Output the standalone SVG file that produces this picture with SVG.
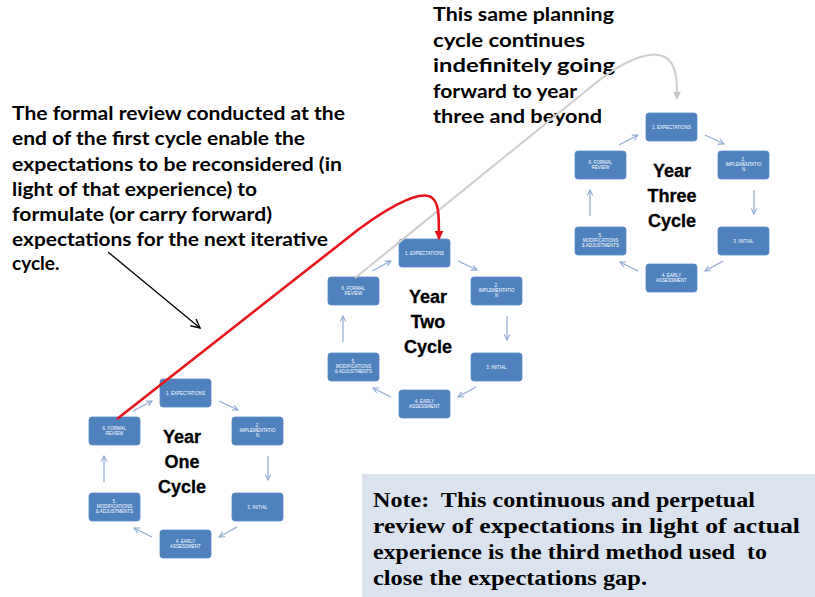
<svg xmlns="http://www.w3.org/2000/svg" width="815" height="597" viewBox="0 0 815 597">
<style>
.box{fill:#4f81bd;stroke:#5b8bc4;stroke-width:0.8}
.bt{font-family:"Liberation Sans",Arial,sans-serif;font-size:4.5px;fill:#ffffff;text-anchor:middle}
.yr{font-family:"Liberation Sans",Arial,sans-serif;font-size:18px;font-weight:bold;fill:#000;text-anchor:middle;stroke:#000;stroke-width:0.3}
.ca{fill:none;stroke:#8eaad0;stroke-width:1.2;marker-end:url(#chev)}
.big{font-family:Lato,"Liberation Sans",sans-serif;font-size:19px;font-weight:bold;fill:#000}
.note{font-family:"Liberation Serif","Times New Roman",serif;font-size:22px;font-weight:bold;fill:#000;white-space:pre}
</style>
<defs>
<marker id="chev" viewBox="0 0 10 10" refX="9" refY="5" markerWidth="7" markerHeight="7" markerUnits="userSpaceOnUse" orient="auto">
<path d="M1,1 L9,5 L1,9" fill="none" stroke="#8eaad0" stroke-width="1.5"/>
</marker>
<marker id="redhead" viewBox="0 0 10 10" refX="9" refY="5" markerWidth="9" markerHeight="9" markerUnits="userSpaceOnUse" orient="auto">
<path d="M0,0 L10,5 L0,10 z" fill="#e8141b"/>
</marker>
<marker id="grayhead" viewBox="0 0 10 10" refX="9" refY="5" markerWidth="8" markerHeight="8" markerUnits="userSpaceOnUse" orient="auto">
<path d="M0,0 L10,5 L0,10 z" fill="#c8c8c8"/>
</marker>
<marker id="blackhead" viewBox="0 0 10 10" refX="9" refY="5" markerWidth="11" markerHeight="11" markerUnits="userSpaceOnUse" orient="auto">
<path d="M1,1 L9,5 L1,9" fill="none" stroke="#000" stroke-width="1.3"/>
</marker>
</defs>
<rect width="815" height="597" fill="#ffffff"/>

<!-- Note box -->
<g id="note">
<rect x="362" y="474" width="453" height="123" fill="#dbe3ef"/>
<text class="note" x="373" y="507" textLength="382" lengthAdjust="spacingAndGlyphs" xml:space="preserve">Note:  This continuous and perpetual</text>
<text class="note" x="373" y="533" textLength="427" lengthAdjust="spacingAndGlyphs">review of expectations in light of actual</text>
<text class="note" x="373" y="559" textLength="394" lengthAdjust="spacingAndGlyphs" xml:space="preserve">experience is the third method used  to</text>
<text class="note" x="373" y="585" textLength="274" lengthAdjust="spacingAndGlyphs">close the expectations gap.</text>
</g>

<!-- Left annotation -->
<g id="annotation-left">
<text class="big" x="12" y="120" textLength="333" lengthAdjust="spacingAndGlyphs">The formal review conducted at the</text>
<text class="big" x="12" y="145" textLength="293" lengthAdjust="spacingAndGlyphs">end of the first cycle enable the</text>
<text class="big" x="12" y="171" textLength="330" lengthAdjust="spacingAndGlyphs">expectations to be reconsidered (in</text>
<text class="big" x="12" y="196" textLength="245" lengthAdjust="spacingAndGlyphs">light of that experience) to</text>
<text class="big" x="12" y="221" textLength="260" lengthAdjust="spacingAndGlyphs">formulate (or carry forward)</text>
<text class="big" x="12" y="246" textLength="316" lengthAdjust="spacingAndGlyphs">expectations for the next iterative</text>
<text class="big" x="12" y="270">cycle.</text>
</g>

<!-- Top annotation -->
<g id="annotation-top">
<text class="big" x="433" y="21" textLength="181" lengthAdjust="spacingAndGlyphs">This same planning</text>
<text class="big" x="433" y="46.5" textLength="152" lengthAdjust="spacingAndGlyphs">cycle continues</text>
<text class="big" x="433" y="72" textLength="182" lengthAdjust="spacingAndGlyphs">indefinitely going</text>
<text class="big" x="433" y="97.5" textLength="144" lengthAdjust="spacingAndGlyphs">forward to year</text>
<text class="big" x="433" y="123" textLength="169" lengthAdjust="spacingAndGlyphs">three and beyond</text>
</g>

<!-- Year One -->
<g id="year-one">
<text class="yr" x="182" y="443">Year</text>
<text class="yr" x="182" y="468">One</text>
<text class="yr" x="182" y="493">Cycle</text>
<g id="y1-expectations"><rect class="box" x="160" y="379" width="51" height="28" rx="3"/><text class="bt" x="185.5" y="394.5">1.  EXPECTATIONS</text></g>
<g id="y1-implementation"><rect class="box" x="232" y="417" width="51" height="28" rx="3"/><text class="bt" x="257.5" y="427">2.</text><text class="bt" x="257.5" y="432">IMPLEMENTATIO</text><text class="bt" x="257.5" y="437">N</text></g>
<g id="y1-initial"><rect class="box" x="232" y="493" width="51" height="28" rx="3"/><text class="bt" x="257.5" y="508.5">3.  INITIAL</text></g>
<g id="y1-early"><rect class="box" x="160" y="530" width="51" height="28" rx="3"/><text class="bt" x="185.5" y="542.5">4.  EARLY</text><text class="bt" x="185.5" y="547.5">ASSESSMENT</text></g>
<g id="y1-modifications"><rect class="box" x="89" y="493" width="51" height="28" rx="3"/><text class="bt" x="114.5" y="503">5.</text><text class="bt" x="114.5" y="508">MODIFICATIONS</text><text class="bt" x="114.5" y="513">&amp; ADJUSTMENTS</text></g>
<g id="y1-review"><rect class="box" x="89" y="417" width="51" height="28" rx="3"/><text class="bt" x="114.5" y="430">6.  FORMAL</text><text class="bt" x="114.5" y="435">REVIEW</text></g>
</g>

<!-- Year Two -->
<g id="year-two" transform="translate(239,-140)">
<text class="yr" x="189" y="443">Year</text>
<text class="yr" x="189" y="468">Two</text>
<text class="yr" x="189" y="493">Cycle</text>
<g id="y2-expectations"><rect class="box" x="160" y="379" width="51" height="28" rx="3"/><text class="bt" x="185.5" y="394.5">1.  EXPECTATIONS</text></g>
<g id="y2-implementation"><rect class="box" x="232" y="417" width="51" height="28" rx="3"/><text class="bt" x="257.5" y="427">2.</text><text class="bt" x="257.5" y="432">IMPLEMENTATIO</text><text class="bt" x="257.5" y="437">N</text></g>
<g id="y2-initial"><rect class="box" x="232" y="493" width="51" height="28" rx="3"/><text class="bt" x="257.5" y="508.5">3.  INITIAL</text></g>
<g id="y2-early"><rect class="box" x="160" y="530" width="51" height="28" rx="3"/><text class="bt" x="185.5" y="542.5">4.  EARLY</text><text class="bt" x="185.5" y="547.5">ASSESSMENT</text></g>
<g id="y2-modifications"><rect class="box" x="89" y="493" width="51" height="28" rx="3"/><text class="bt" x="114.5" y="503">5.</text><text class="bt" x="114.5" y="508">MODIFICATIONS</text><text class="bt" x="114.5" y="513">&amp; ADJUSTMENTS</text></g>
<g id="y2-review"><rect class="box" x="89" y="417" width="51" height="28" rx="3"/><text class="bt" x="114.5" y="430">6.  FORMAL</text><text class="bt" x="114.5" y="435">REVIEW</text></g>
</g>

<!-- Year Three -->
<g id="year-three" transform="translate(486,-266)">
<text class="yr" x="186" y="443">Year</text>
<text class="yr" x="186" y="468">Three</text>
<text class="yr" x="186" y="493">Cycle</text>
<g id="y3-expectations"><rect class="box" x="160" y="379" width="51" height="28" rx="3"/><text class="bt" x="185.5" y="394.5">1.  EXPECTATIONS</text></g>
<g id="y3-implementation"><rect class="box" x="232" y="417" width="51" height="28" rx="3"/><text class="bt" x="257.5" y="427">2.</text><text class="bt" x="257.5" y="432">IMPLEMENTATIO</text><text class="bt" x="257.5" y="437">N</text></g>
<g id="y3-initial"><rect class="box" x="232" y="493" width="51" height="28" rx="3"/><text class="bt" x="257.5" y="508.5">3.  INITIAL</text></g>
<g id="y3-early"><rect class="box" x="160" y="530" width="51" height="28" rx="3"/><text class="bt" x="185.5" y="542.5">4.  EARLY</text><text class="bt" x="185.5" y="547.5">ASSESSMENT</text></g>
<g id="y3-modifications"><rect class="box" x="89" y="493" width="51" height="28" rx="3"/><text class="bt" x="114.5" y="503">5.</text><text class="bt" x="114.5" y="508">MODIFICATIONS</text><text class="bt" x="114.5" y="513">&amp; ADJUSTMENTS</text></g>
<g id="y3-review"><rect class="box" x="89" y="417" width="51" height="28" rx="3"/><text class="bt" x="114.5" y="430">6.  FORMAL</text><text class="bt" x="114.5" y="435">REVIEW</text></g>
</g>

<!-- Connectors -->
<g id="connectors">
<g id="cycle-arrows-one">
<path class="ca" d="M133,411 L152,401"/>
<path class="ca" d="M219,401 L238,410"/>
<path class="ca" d="M268,456 L268,480"/>
<path class="ca" d="M237,527 L219,537"/>
<path class="ca" d="M152,537 L134,528"/>
<path class="ca" d="M104,482 L104,456"/>
</g>
<g id="cycle-arrows-two" transform="translate(239,-140)">
<path class="ca" d="M133,411 L152,401"/>
<path class="ca" d="M219,401 L238,410"/>
<path class="ca" d="M268,456 L268,480"/>
<path class="ca" d="M237,527 L219,537"/>
<path class="ca" d="M152,537 L134,528"/>
<path class="ca" d="M104,482 L104,456"/>
</g>
<g id="cycle-arrows-three" transform="translate(486,-266)">
<path class="ca" d="M133,411 L152,401"/>
<path class="ca" d="M219,401 L238,410"/>
<path class="ca" d="M268,456 L268,480"/>
<path class="ca" d="M237,527 L219,537"/>
<path class="ca" d="M152,537 L134,528"/>
<path class="ca" d="M104,482 L104,456"/>
</g>
<path id="gray-link" d="M355,278 L592,86 C626,58 660,44 672,64 C677,73 677,84 677,99" fill="none" stroke="#d0d0d0" stroke-width="2.2" marker-end="url(#grayhead)"/>
<path id="red-link" d="M117,419 L345,240 C382,210 418,190 431,197 C439,202 439,214 439,239" fill="none" stroke="#e8141b" stroke-width="2.6" marker-end="url(#redhead)"/>
<path id="black-link" d="M108,252 L200,328" fill="none" stroke="#000" stroke-width="1.3" marker-end="url(#blackhead)"/>
</g>
</svg>
